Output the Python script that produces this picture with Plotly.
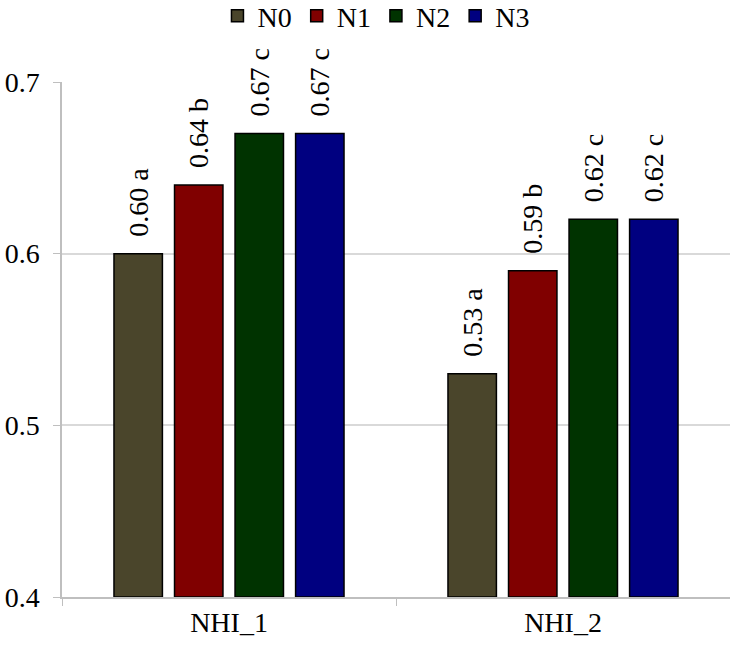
import plotly.graph_objects as go

categories = ["NHI_1", "NHI_2"]
series_names = ["N0", "N1", "N2", "N3"]
values = {
    "N0": [0.60, 0.53],
    "N1": [0.64, 0.59],
    "N2": [0.67, 0.62],
    "N3": [0.67, 0.62],
}
letters = {
    "N0": ["a", "a"],
    "N1": ["b", "b"],
    "N2": ["c", "c"],
    "N3": ["c", "c"],
}
colors = {"N0": "#4A452B", "N1": "#800000", "N2": "#003300", "N3": "#000080"}
y_ticks = [0.4, 0.5, 0.6, 0.7]
base_value = 0.4

font_family = "Liberation Serif"
fsize = 28

fig = go.Figure()
for s in series_names:
    tf = dict(family=font_family, size=fsize, color="black")
    fig.add_trace(go.Bar(
        name=s,
        x=categories,
        y=[v - base_value for v in values[s]],
        base=base_value,
        marker=dict(color=colors[s], line=dict(color="black", width=1.5)),
        text=[f"\u00a0\u00a0{v:.2f} {l}" for v, l in zip(values[s], letters[s])],
        textposition="outside",
        textangle=-90,
        textfont=tf,
        outsidetextfont=tf,
        cliponaxis=False,
        constraintext="none",
    ))

fig.update_layout(
    width=730, height=649,
    margin=dict(l=62, r=0, t=82, b=52, autoexpand=False),
    paper_bgcolor="white", plot_bgcolor="white",
    barmode="group", bargap=0.275, bargroupgap=0.2,
    font=dict(family=font_family, size=fsize, color="black"),
    legend=dict(orientation="h", x=0.47, xanchor="center", xref="paper",
                y=1.128, yref="paper", yanchor="middle",
                font=dict(family=font_family, size=fsize), itemwidth=30,
                traceorder="normal", tracegroupgap=0),
    showlegend=True,
)
fig.update_yaxes(
    range=[0.4, 0.7], tickvals=y_ticks, ticktext=[f"{t:.1f}" for t in y_ticks],
    showgrid=True, gridcolor="#D9D9D9", gridwidth=1.5,
    showline=True, linecolor="#BFBFBF", linewidth=1.5,
    ticks="outside", ticklen=7, tickcolor="#BFBFBF", ticklabelstandoff=8,
    zeroline=False, tickfont=dict(family=font_family, size=fsize),
    automargin=False,
)
fig.update_xaxes(
    showline=True, linecolor="#BFBFBF", linewidth=1.5,
    ticks="outside", tickson="boundaries", ticklen=7, tickcolor="#BFBFBF",
    tickfont=dict(family=font_family, size=fsize),
    automargin=False,
)
fig.write_html("out.html")
